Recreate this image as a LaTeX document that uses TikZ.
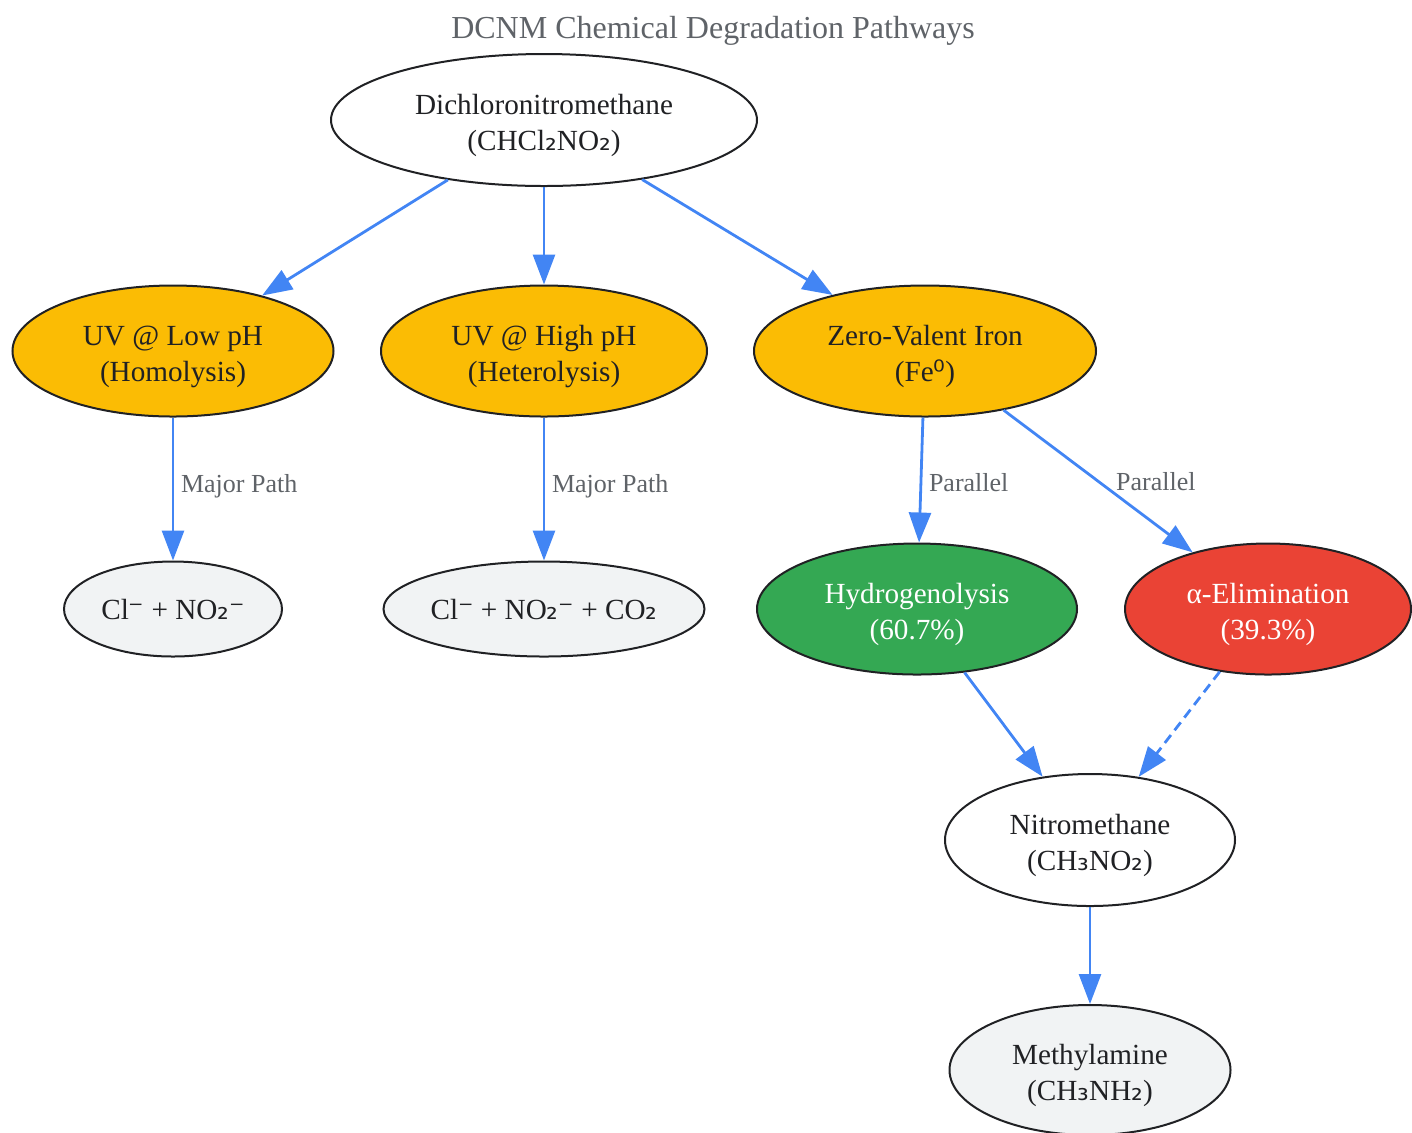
\documentclass[tikz,border=0pt]{standalone}
\usepackage{fontspec}
\setmainfont{Liberation Serif}
\newfontfamily\symfont{DejaVu Sans}
\usetikzlibrary{shapes.geometric,arrows.meta}

\definecolor{flowblue}{HTML}{4285F4}
\definecolor{stepyellow}{HTML}{FBBC04}
\definecolor{hydrogreen}{HTML}{34A853}
\definecolor{elimred}{HTML}{EA4335}
\definecolor{prodgray}{HTML}{F1F3F4}
\definecolor{inkdark}{HTML}{202124}
\definecolor{notegray}{HTML}{5F6368}

\newcommand{\ix}[1]{{\symfont #1}}
\newcommand{\lift}{\rule{0pt}{16pt}}

\tikzset{
	chem/.style={ellipse, draw=inkdark, line width=1pt, inner sep=0pt, align=center,
		text=inkdark, font=\fontsize{14.6}{18}\selectfont},
	flow/.style={color=flowblue, line width=1.4pt, -{Triangle[length=15pt,width=11pt]}},
	lbl/.style={font=\fontsize{13}{15}\selectfont, text=notegray},
}

\begin{document}
\begin{tikzpicture}[x=0.5pt,y=-0.5pt]
	\useasboundingbox (0,0) rectangle (1412,1132);
	\node[font=\fontsize{16}{19}\selectfont, text=notegray] (title) at (713,31) {DCNM Chemical Degradation Pathways};
	
	\node[chem, fill=white, minimum width=213pt, minimum height=66pt] (dcnm) at (544,120) {\lift Dichloronitromethane\\(CHCl\ix{₂}NO\ix{₂})};
	
	\node[chem, fill=stepyellow, minimum width=160.5pt, minimum height=65.5pt] (uvlow) at (173,351) {\lift UV @ Low pH\\(Homolysis)};
	\node[chem, fill=stepyellow, minimum width=163pt, minimum height=65.5pt] (uvhigh) at (544,351) {\lift UV @ High pH\\(Heterolysis)};
	\node[chem, fill=stepyellow, minimum width=171pt, minimum height=65.5pt] (zvi) at (925,351) {\lift Zero-Valent Iron\\(Fe\ix{⁰})};
	
	\node[chem, fill=prodgray, minimum width=109pt, minimum height=47.5pt] (ionslow) at (173,609) {Cl\ix{⁻} + NO\ix{₂⁻}};
	\node[chem, fill=prodgray, minimum width=160.5pt, minimum height=47.5pt] (ionshigh) at (544,609) {Cl\ix{⁻} + NO\ix{₂⁻} + CO\ix{₂}};
	\node[chem, fill=hydrogreen, text=white, minimum width=160pt, minimum height=65.5pt] (hydro) at (917,609) {\lift Hydrogenolysis\\(60.7\%)};
	\node[chem, fill=elimred, text=white, minimum width=143pt, minimum height=65.5pt] (aelim) at (1268,609) {\lift α-Elimination\\(39.3\%)};
	
	\node[chem, fill=white, minimum width=145pt, minimum height=66pt] (nitro) at (1090,840) {\lift Nitromethane\\(CH\ix{₃}NO\ix{₂})};
	\node[chem, fill=prodgray, minimum width=140.5pt, minimum height=65pt] (methyl) at (1090,1070) {\lift Methylamine\\(CH\ix{₃}NH\ix{₂})};
	
	\path[flow] (dcnm) edge (uvlow);
	\path[flow] (dcnm) edge (uvhigh);
	\path[flow] (dcnm) edge (zvi);
	
	\path[flow] (uvlow) edge node[lbl, right, pos=0.48] {Major Path} (ionslow);
	\path[flow] (uvhigh) edge node[lbl, right, pos=0.48] {Major Path} (ionshigh);
	\path[flow] (zvi) edge node[lbl, right, pos=0.52] {Parallel} (hydro);
	\path[flow] (zvi) edge node[lbl, right, xshift=5pt] {Parallel} (aelim);
	
	\path[flow] (hydro) edge (nitro);
	\path[flow, dash pattern=on 5pt off 3pt] (aelim) edge (nitro);
	\path[flow] (nitro) edge (methyl);
	
\end{tikzpicture}
\end{document}
